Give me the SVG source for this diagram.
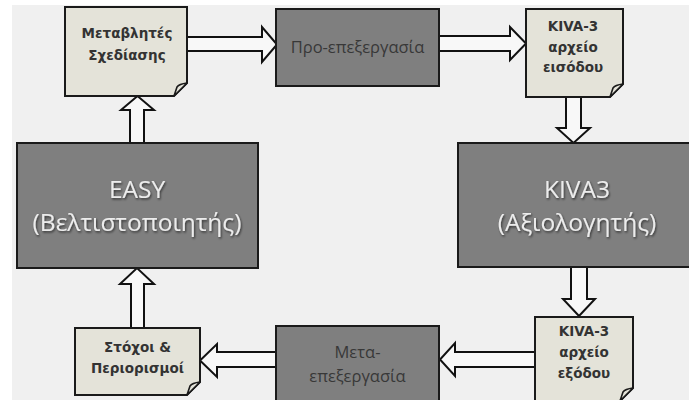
<svg xmlns="http://www.w3.org/2000/svg" width="689" height="400" viewBox="0 0 689 400">
<style>
.proc{fill:#7f7f7f;stroke:#1a1a1a;stroke-width:2}
.doc{fill:#e4e3d9;stroke:#1a1a1a;stroke-width:2;stroke-linejoin:miter}
.curl{fill:#e4e3d9;stroke:#1a1a1a;stroke-width:1.6;stroke-linejoin:round}
.arr{fill:#f8f8f8;stroke:#111;stroke-width:2;stroke-linejoin:miter}
.big{font-family:"Open Sans","Liberation Sans",sans-serif;font-size:24.5px;fill:#ececec;text-anchor:middle}
.mid{font-family:"Open Sans","Liberation Sans",sans-serif;font-size:16.5px;fill:#383838;text-anchor:middle}
.dt{font-family:"DejaVu Sans","Liberation Sans",sans-serif;font-weight:bold;font-size:13.5px;fill:#333;text-anchor:middle}
</style>
<defs>
<filter id="sh" x="-10%" y="-20%" width="120%" height="140%">
<feDropShadow dx="1" dy="1.5" stdDeviation="0.8" flood-color="#000" flood-opacity="0.6"/>
</filter>
</defs>
<rect width="689" height="400" fill="#ffffff"/>
<rect x="12" y="5" width="677" height="395" fill="#f0f0f0"/>

<g id="connectors">
<path class="arr" d="M130,143 V110 H121 L137.5,96 L154,110 H144 V143 Z"/>
<path class="arr" d="M187,37 H262 V27 L277,44.5 L262,62 V51 H187 Z"/>
<path class="arr" d="M439,36 H510 V27 L526,43.5 L510,60 V51 H439 Z"/>
<path class="arr" d="M566,97 V128 H557 L573.5,143 L590,128 H581 V97 Z"/>
<path class="arr" d="M571,267 V299 H563 L579,316 L595,299 H587 V267 Z"/>
<path class="arr" d="M535,352 H455 V343 L440,359.5 L455,376 V367 H535 Z"/>
<path class="arr" d="M276,352 H217 V344 L200,360.5 L217,377 V367 H276 Z"/>
<path class="arr" d="M131,328 V284 H120 L137,268 L154,284 H144 V328 Z"/>
</g>

<g id="design-vars">
<path class="doc" d="M65,7 H187 V83 L174,96 H65 Z"/>
<path class="curl" d="M174,96 L177,87 Q179,84 187,83 Z"/>
<text class="dt" x="127" y="38">Μεταβλητές</text>
<text class="dt" x="127" y="60">Σχεδίασης</text>
</g>

<g id="preprocessing">
<rect class="proc" x="276" y="9" width="163" height="77"/>
<text class="mid" x="357.5" y="53">Προ-επεξεργασία</text>
</g>

<g id="kiva-input">
<path class="doc" d="M526,9 H623 V84 L610,97 H526 Z"/>
<path class="curl" d="M610,97 L613,88 Q615,85 623,84 Z"/>
<text class="dt" x="573" y="31">KIVA-3</text>
<text class="dt" x="573" y="52">αρχείο</text>
<text class="dt" x="573" y="72">εισόδου</text>
</g>

<g id="easy">
<rect class="proc" x="17" y="143" width="241" height="125"/>
<text class="big" x="137" y="198" filter="url(#sh)">EASY</text>
<text class="big" x="137" y="231" filter="url(#sh)">(Βελτιστοποιητής)</text>
</g>

<g id="kiva3">
<rect class="proc" x="458" y="143" width="238" height="124"/>
<text class="big" x="577" y="198" filter="url(#sh)">KIVA3</text>
<text class="big" x="577" y="231" filter="url(#sh)">(Αξιολογητής)</text>
</g>

<g id="kiva-output">
<path class="doc" d="M535,317 H633 V388 L620,401 H535 Z"/>
<path class="curl" d="M620,401 L623,392 Q625,389 633,388 Z"/>
<text class="dt" x="584" y="336">KIVA-3</text>
<text class="dt" x="584" y="357">αρχείο</text>
<text class="dt" x="584" y="378">εξόδου</text>
</g>

<g id="postprocessing">
<rect class="proc" x="276" y="326" width="163" height="80"/>
<text class="mid" x="357.5" y="358">Μετα-</text>
<text class="mid" x="357.5" y="382">επεξεργασία</text>
</g>

<g id="objectives">
<path class="doc" d="M75,328 H200 V382 L187,395 H75 Z"/>
<path class="curl" d="M187,395 L190,386 Q192,383 200,382 Z"/>
<text class="dt" x="137.5" y="352">Στόχοι &amp;</text>
<text class="dt" x="137.5" y="373">Περιορισμοί</text>
</g>
</svg>
